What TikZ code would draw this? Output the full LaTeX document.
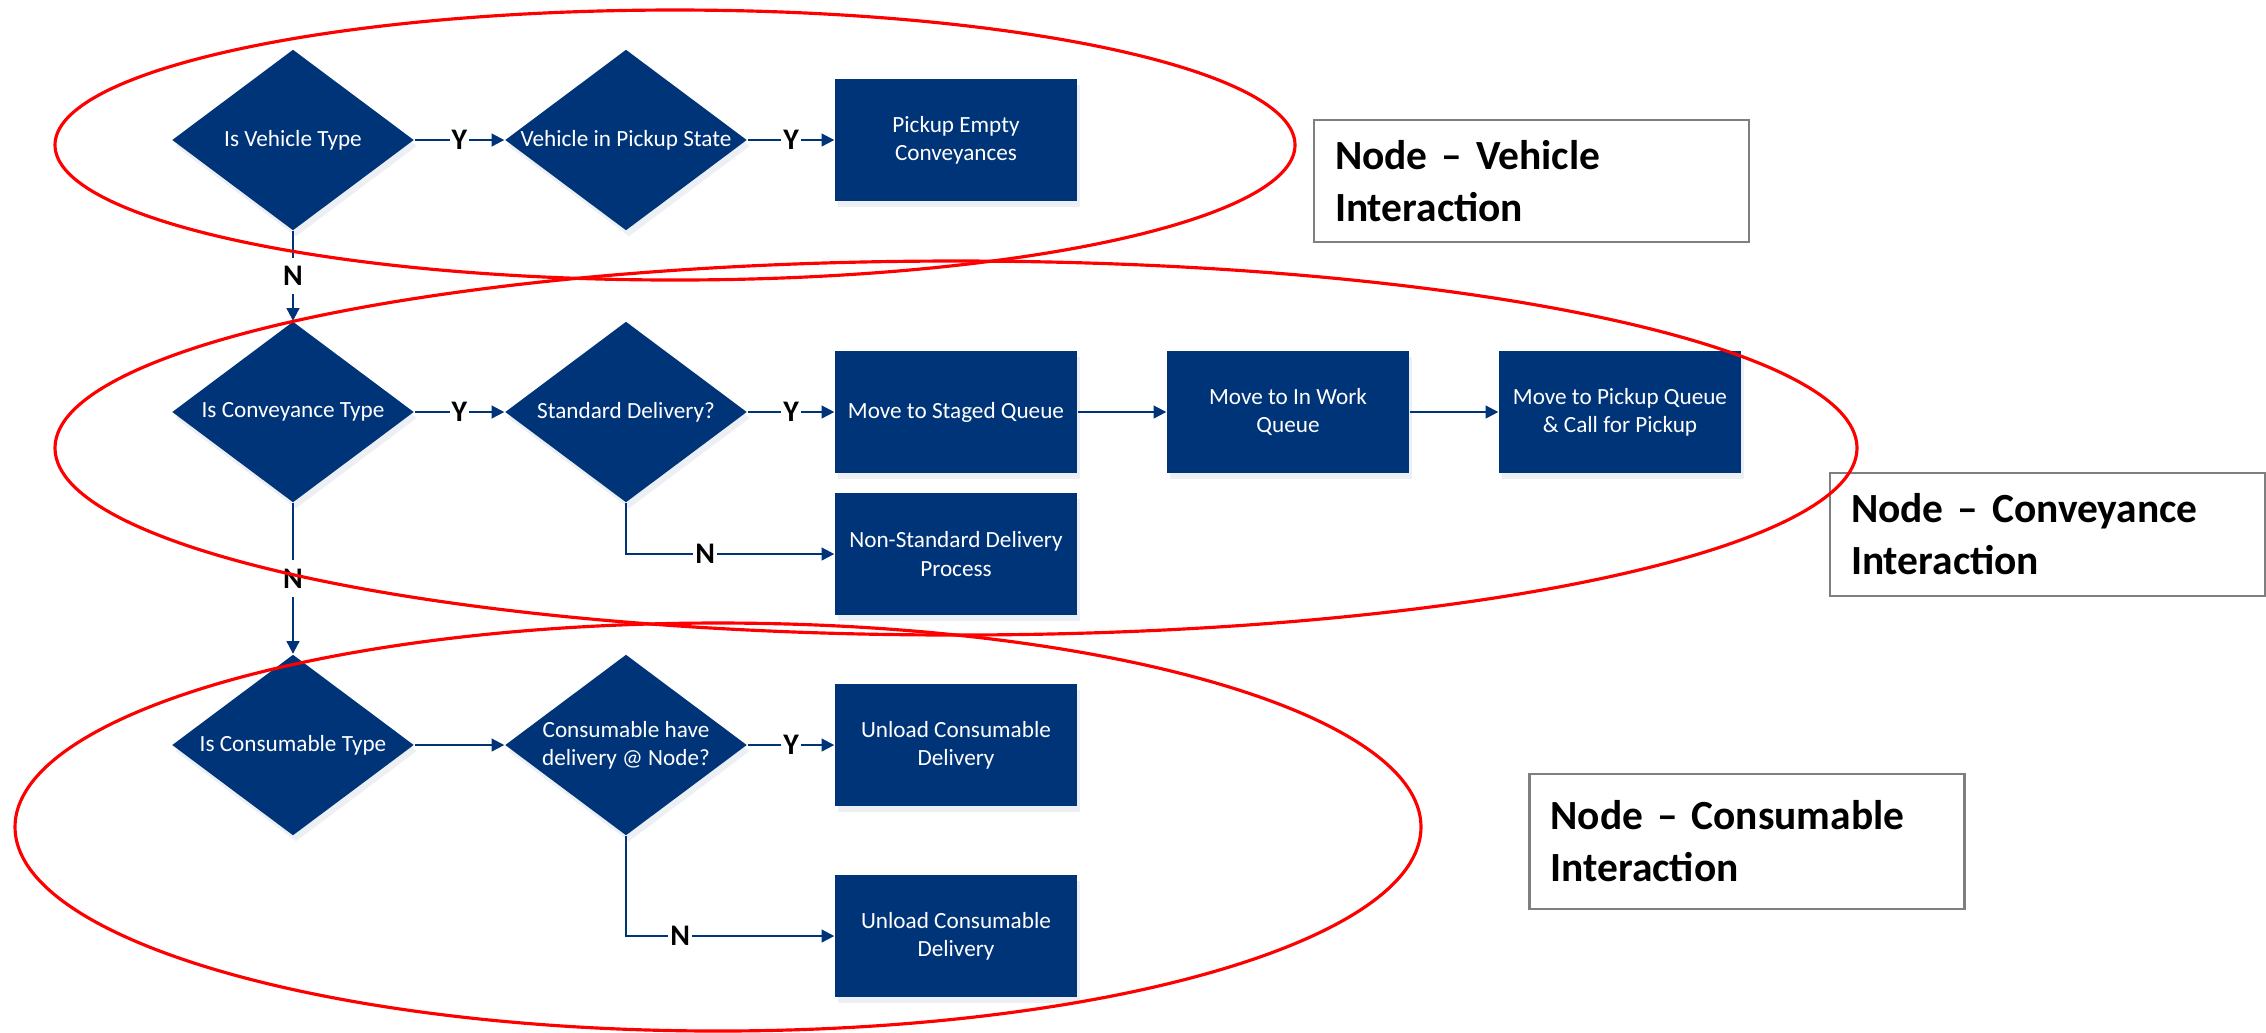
\documentclass[tikz,border=0pt]{standalone}
\usepackage{fontspec}
\setmainfont{Carlito}
\usepackage{tikz}
\usetikzlibrary{positioning,arrows.meta,calc,shapes.geometric,shadows}
\definecolor{flowblue}{HTML}{003478}
\definecolor{loopred}{HTML}{FF0000}
\definecolor{tagframe}{HTML}{7F7F7F}

\begin{document}
\begin{tikzpicture}[
  font=\fontsize{6.6}{8}\selectfont,
  glow/.style={drop shadow={shadow xshift=0.3mm, shadow yshift=-0.6mm, fill=flowblue!15}},
  decision/.style={diamond, fill=flowblue, minimum width=2.42cm, minimum height=1.81cm,
                   inner sep=0pt, glow, label={[text=white, align=center]center:#1}},
  task/.style={rectangle, fill=flowblue, minimum width=2.42cm, minimum height=1.22cm,
               inner sep=1pt, text=white, align=center, glow},
  flow/.style={-{Triangle[length=3.6pt,width=3.6pt]}, draw=flowblue, line width=0.6pt},
  yn/.style={fill=white, text=black, font=\fontsize{8.5}{10}\selectfont\bfseries,
             inner xsep=0.6pt, inner ysep=2.5pt},
  tag/.style={draw=tagframe, line width=0.7pt, fill=white, text width=3.93cm, inner xsep=0.21cm,
              align=left, font=\fontsize{11.8}{14.8}\selectfont\bfseries},
  loop/.style={draw=loopred, line width=0.9pt},
]
\useasboundingbox (0,0) rectangle (22.66,-10.32);
\def\dxa{2.93} \def\dxb{6.26} \def\bxa{9.56} \def\bxb{12.88} \def\bxc{16.20}
\def\rva{-1.40} \def\rco{-4.12} \def\rcn{-7.45}
% vehicle row
\node[decision={Is Vehicle Type}] (isveh) at (\dxa,\rva) {};
\node[decision={Vehicle in Pickup State}] (vehpick) at (\dxb,\rva) {};
\node[task] (pickempty) at (\bxa,\rva) {Pickup Empty\\Conveyances};
% conveyance row
\node[decision={Is Conveyance Type}] (isconv) at (\dxa,\rco) {};
\node[decision={Standard Delivery?}] (stddel) at (\dxb,\rco) {};
\node[task] (staged) at (\bxa,\rco) {Move to Staged Queue};
\node[task] (inwork) at (\bxb,\rco) {Move to In Work\\Queue};
\node[task] (pickq) at (\bxc,\rco) {Move to Pickup Queue\\\& Call for Pickup};
\node[task] (nonstd) at (\bxa,-5.54) {Non-Standard Delivery\\Process};
% consumable row
\node[decision={Is Consumable Type}] (iscons) at (\dxa,\rcn) {};
\node[decision={Consumable have\\delivery @ Node?}] (conshave) at (\dxb,\rcn) {};
\node[task] (unloada) at (\bxa,\rcn) {Unload Consumable\\Delivery};
\node[task] (unloadb) at (\bxa,-9.36) {Unload Consumable\\Delivery};
% connectors
\draw[flow] (isveh) -- node[yn]{Y} (vehpick);
\draw[flow] (vehpick) -- node[yn]{Y} (pickempty);
\draw[flow] (isveh) -- node[yn]{N} (isconv);
\draw[flow] (isconv) -- node[yn]{Y} (stddel);
\draw[flow] (stddel) -- node[yn]{Y} (staged);
\draw[flow] (staged) -- (inwork);
\draw[flow] (inwork) -- (pickq);
\draw[flow] (stddel.south) |- node[yn, pos=0.69]{N} (nonstd.west);
\draw[flow] (isconv) -- node[yn]{N} (iscons);
\draw[flow] (iscons) -- (conshave);
\draw[flow] (conshave) -- node[yn]{Y} (unloada);
\draw[flow] (conshave.south) |- node[yn, pos=0.63]{N} (unloadb.west);
% group tags
\node[tag, minimum height=1.22cm] (vtag) at (15.315,-1.81) {Node – Vehicle\\Interaction};
\node[tag, minimum height=1.23cm] (ctag) at (20.475,-5.345) {Node – Conveyance\\Interaction};
\node[tag, minimum height=1.35cm] (stag) at (17.47,-8.415) {Node – Consumable\\Interaction};
% red outlines
\draw[loop] (6.75,-1.45) ellipse [x radius=6.20, y radius=1.35];
\draw[loop] (9.56,-4.48) ellipse [x radius=9.01, y radius=1.87];
\draw[loop] (7.18,-8.27) ellipse [x radius=7.03, y radius=2.04];
\end{tikzpicture}
\end{document}
